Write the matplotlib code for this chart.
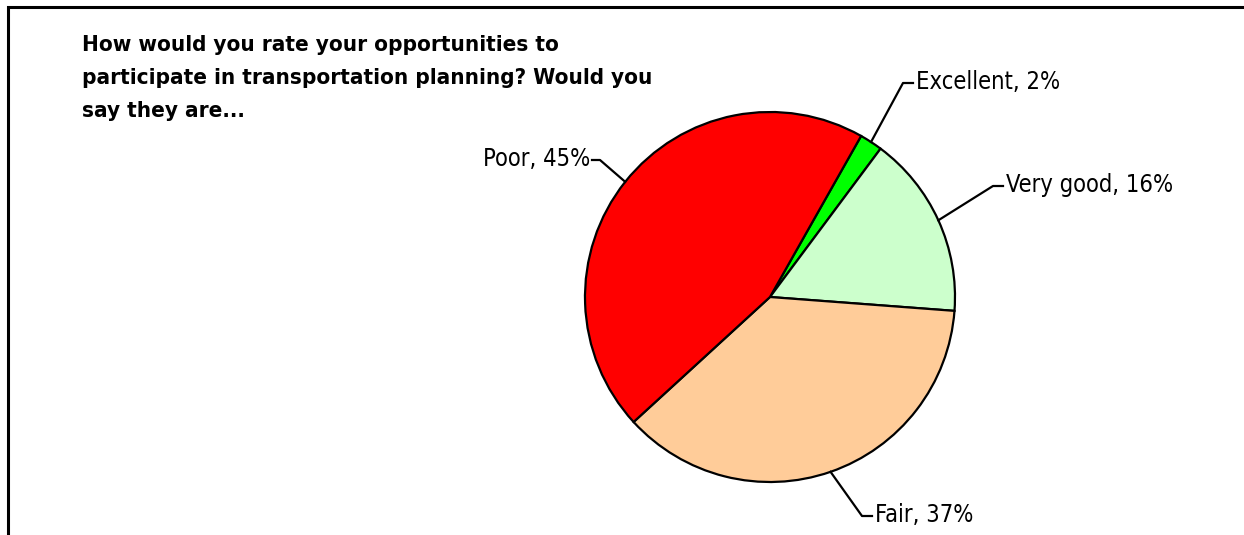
import numpy as np
import matplotlib
matplotlib.use("Agg")
import matplotlib.pyplot as plt
from matplotlib.patches import Rectangle
from matplotlib.lines import Line2D

categories = ["Excellent", "Very good", "Fair", "Poor"]
values = [2, 16, 37, 45]
colors = ["#00FF00", "#CCFFCC", "#FFCC99", "#FF0000"]
question = "How would you rate your opportunities to\nparticipate in transportation planning? Would you\nsay they are..."

W, H = 1244, 535
fig = plt.figure(figsize=(W / 100, H / 100), dpi=100)

cx, cy, r = 770, 297, 185
ax = fig.add_axes([(cx - r) / W, (H - cy - r) / H, 2 * r / W, 2 * r / H])
start = 60.5
wedges, _ = ax.pie(values, colors=colors, startangle=start, counterclock=False,
                   radius=1, wedgeprops=dict(edgecolor="black", linewidth=1.6))
ax.set_xlim(-1, 1)
ax.set_ylim(-1, 1)
ax.set_aspect("equal")
ax.axis("off")

label_font = dict(family="DejaVu Sans", fontstretch="condensed", fontsize=17)

# elbow and end points of leader lines in pixels (layout)
elbows = {
    "Excellent": ((903, 83), (913, 83), "left"),
    "Very good": ((993, 186), (1003, 186), "left"),
    "Fair": ((862, 516), (872, 516), "left"),
    "Poor": ((600, 160), (592, 160), "right"),
}

def px2d(px, py):
    return (px - cx) / r, (cy - py) / r

for w, cat, v in zip(wedges, categories, values):
    mid = np.deg2rad((w.theta1 + w.theta2) / 2)
    x0, y0 = np.cos(mid), np.sin(mid)
    (ex, ey), (tx, ty), ha = elbows[cat]
    e = px2d(ex, ey)
    t = px2d(tx, ty)
    ax.add_line(Line2D([x0, e[0], t[0]], [y0, e[1], t[1]], color="black",
                       linewidth=1.6, clip_on=False))
    off = 0.015 if ha == "left" else -0.01
    ax.text(t[0] + off, t[1] + 0.005, f"{cat}, {v}%", ha=ha, va="center",
            clip_on=False, **label_font)

fig.text(82 / W, 1 - 35 / H, question, ha="left", va="top",
         family="DejaVu Sans", fontstretch="condensed", fontweight="bold",
         fontsize=16.1, linespacing=1.82)

fig.add_artist(Rectangle((8 / W, -0.1), 1.2, (H - 7) / H + 0.1,
                         transform=fig.transFigure, fill=False,
                         edgecolor="black", linewidth=2.2))

fig.savefig("out.png", dpi=100)
